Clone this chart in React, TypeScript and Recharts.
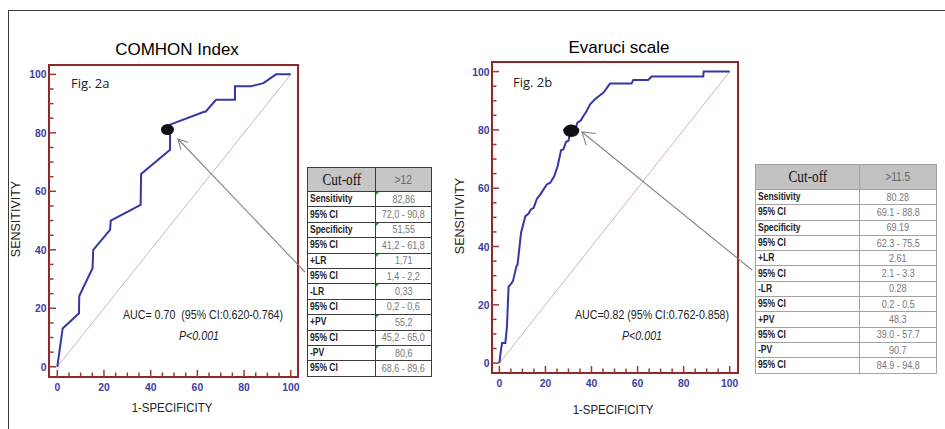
import React from 'react';
import { ComposedChart, Line, Scatter, XAxis, YAxis, ReferenceArea } from 'recharts';

// ROC curve points (1-specificity %, sensitivity %)
const comhonFpr = [0, 2.3, 9.3, 9.4, 15.1, 15.4, 22.6, 22.9, 35.7, 35.9, 48.3, 48.3, 62.6, 63.6, 68, 76.1, 76.1, 82.9, 88.3, 93.7, 100];
const comhonTpr = [0, 13.1, 18.3, 24.2, 33.7, 40, 46.8, 50, 55.4, 65.9, 74.2, 82.8, 87.1, 87.3, 91.3, 91.3, 95.9, 95.9, 97, 100, 100];

const evaruciFpr = [0, 0.7, 1.2, 2.6, 3.3, 4.0, 4.5, 5.9, 7.4, 7.9, 9.4, 11.3, 12.7, 13.7, 14.9, 16.3, 17.7, 20.6, 22.1, 23.8, 25.3, 26.8, 27.8, 28.9, 30, 30.7, 32.9, 33.9, 35.4, 36.5, 37.7, 39.4, 41.5, 43.7, 45.2, 47.3, 48.1, 57.4, 58.1, 64.6, 66.1, 88.5, 88.7, 100];
const evaruciTpr = [0, 4.6, 6.9, 6.9, 12.6, 26.3, 26.6, 28.1, 33.2, 33.8, 44.7, 50.4, 51.3, 52.7, 53.3, 56.4, 57.8, 61.3, 61.9, 64.1, 67.6, 73.1, 73.3, 75.9, 76.3, 79.1, 80.2, 82.5, 83.3, 84.8, 86.2, 88.8, 90.5, 91.9, 92.8, 95.1, 95.9, 95.9, 97.1, 97.1, 98.3, 98.3, 100, 100];

// optimal cut-off points
const comhonCut = [{ x: 47.2, y: 81.1 }];
const evaruciCut = [{ x: 31.2, y: 79.7 }];

const axisTicks = [0, 5, 10, 15, 20, 25, 30, 35, 40, 45, 50, 55, 60, 65, 70, 75, 80, 85, 90, 95, 100];

const rowLabels = ['Sensitivity', '95% CI', 'Specificity', '95% CI', '+LR', '95% CI', '-LR', '95% CI', '+PV', '95% CI', '-PV', '95% CI'];
const comhonValues = ['82,86', '72,0 - 90,8', '51,55', '41,2 - 61,8', '1,71', '1,4 - 2,2', '0,33', '0,2 - 0,6', '55,2', '45,2 - 65,0', '80,6', '68,6 - 89,6'];
const evaruciValues = ['80.28', '69.1 - 88.8', '69.19', '62.3 - 75.5', '2.61', '2.1 - 3.3', '0.28', '0.2 - 0.5', '48.3', '39.0 - 57.7', '90.7', '84.9 - 94.8'];

const toPoints = (xs: number[], ys: number[]) => xs.map((x, i) => ({ x, y: ys[i] }));
const diagonal = [{ x: 0, y: 0 }, { x: 100, y: 100 }];

const BORDER = '#8c2a2a';
const TICK = '#a33434';
const LABEL = '#3d3da3';
const CURVE = '#3636a8';
const SANS = "'Liberation Sans', Arial, sans-serif";

const XTick = (props: any) => {
  const { x, y, payload } = props;
  const v = payload.value;
  const major = v % 20 === 0;
  return (
    <g>
      <line x1={x} x2={x} y1={y} y2={y - (major ? 7 : 4.5)} stroke={TICK} strokeWidth={1.5} />
      {major && (
        <text transform={`translate(${x},${y + 14}) scale(0.9,1)`} textAnchor="middle" fill={LABEL} fontSize={11.5} fontWeight="bold" fontFamily={SANS}>
          {v}
        </text>
      )}
    </g>
  );
};

const YTick = (props: any) => {
  const { x, y, payload } = props;
  const v = payload.value;
  const major = v % 20 === 0;
  return (
    <g>
      <line x1={x} x2={x + (major ? 7 : 4.5)} y1={y} y2={y} stroke={TICK} strokeWidth={1.5} />
      {major && (
        <text transform={`translate(${x - 2.5},${y + 4}) scale(0.9,1)`} textAnchor="end" fill={LABEL} fontSize={11.5} fontWeight="bold" fontFamily={SANS}>
          {v}
        </text>
      )}
    </g>
  );
};

type PanelProps = {
  curve: { x: number; y: number }[];
  cut: { x: number; y: number }[];
  margin: { top: number; right: number; bottom: number; left: number };
  xDomain: [number, number];
  yDomain: [number, number];
  rx: number;
  ry: number;
};

const RocPanel = ({ curve, cut, margin, xDomain, yDomain, rx, ry }: PanelProps) => (
  <div style={{ position: 'absolute', left: 0, top: 0 }}>
    <ComposedChart width={945} height={429} margin={margin}>
      <XAxis
        type="number"
        dataKey="x"
        domain={xDomain}
        allowDataOverflow
        ticks={axisTicks}
        interval={0}
        tick={(p: any) => <XTick {...p} />}
        tickLine={false}
        axisLine={false}
        tickSize={0}
        tickMargin={0}
        height={1}
      />
      <YAxis
        type="number"
        dataKey="y"
        domain={yDomain}
        allowDataOverflow
        ticks={axisTicks}
        interval={0}
        tick={(p: any) => <YTick {...p} />}
        tickLine={false}
        axisLine={false}
        tickSize={0}
        tickMargin={0}
        width={1}
      />
      <ReferenceArea
        x1={xDomain[0]}
        x2={xDomain[1]}
        y1={yDomain[0]}
        y2={yDomain[1]}
        fill="none"
        fillOpacity={0}
        stroke={BORDER}
        strokeWidth={2}
        ifOverflow="visible"
      />
      <Line data={diagonal} dataKey="y" type="linear" stroke="#d6b4aa" strokeWidth={1} dot={false} isAnimationActive={false} />
      <Scatter
        data={cut}
        dataKey="y"
        isAnimationActive={false}
        shape={(p: any) => <ellipse cx={p.cx} cy={p.cy} rx={rx} ry={ry} fill="#111" />}
      />
      <Line data={curve} dataKey="y" type="linear" stroke={CURVE} strokeWidth={2} dot={false} isAnimationActive={false} />
    </ComposedChart>
  </div>
);

const Arrow = ({ tail, tip, len, spread }: { tail: [number, number]; tip: [number, number]; len: number; spread: number }) => {
  const ang = Math.atan2(tail[1] - tip[1], tail[0] - tip[0]);
  const a1 = ang + (spread * Math.PI) / 180;
  const a2 = ang - (spread * Math.PI) / 180;
  return (
    <g stroke="#858585" strokeWidth={1.1} fill="none">
      <line x1={tail[0]} y1={tail[1]} x2={tip[0]} y2={tip[1]} />
      <polyline
        points={`${tip[0] + len * Math.cos(a1)},${tip[1] + len * Math.sin(a1)} ${tip[0]},${tip[1]} ${tip[0] + len * Math.cos(a2)},${tip[1] + len * Math.sin(a2)}`}
      />
    </g>
  );
};

// condensed text: horizontally squeezed, anchored at (x, y)
const NText = ({ x, y, sx = 0.82, size = 13, anchor = 'middle', italic = false, children }: any) => (
  <text
    transform={`translate(${x},${y}) scale(${sx},1)`}
    textAnchor={anchor}
    fontSize={size}
    fontStyle={italic ? 'italic' : 'normal'}
    fontFamily={SANS}
    fill="#222"
    style={{ whiteSpace: 'pre' }}
  >
    {children}
  </text>
);

const CutTable = ({
  left, top, width, split, headerH, rowH, cutoff, values, border, borderW, headerBg, marks,
}: {
  left: number; top: number; width: number; split: number; headerH: number; rowH: number; cutoff: string;
  values: string[]; border: string; borderW: number; headerBg: string; marks: boolean;
}) => (
  <table
    style={{
      position: 'absolute', left, top, width, borderCollapse: 'collapse', tableLayout: 'fixed',
      fontFamily: SANS, border: `${borderW}px solid ${border}`,
    }}
  >
    <colgroup>
      <col style={{ width: split }} />
      <col style={{ width: width - split }} />
    </colgroup>
    <tbody>
      <tr style={{ height: headerH, background: headerBg }}>
        <td style={{ border: `${borderW}px solid ${border}`, textAlign: 'center', padding: 0, fontFamily: "'Liberation Serif', 'Times New Roman', serif", fontSize: 17, color: '#111' }}>
          <span style={{ display: 'inline-block', transform: 'scaleX(0.78)' }}>Cut-off</span>
        </td>
        <td style={{ border: `${borderW}px solid ${border}`, textAlign: 'center', padding: 0, fontSize: 12, color: '#666' }}>
          <span style={{ display: 'inline-block', transform: 'scaleX(0.85)' }}>{cutoff}</span>
        </td>
      </tr>
      {rowLabels.map((lab, i) => (
        <tr key={i} style={{ height: rowH }}>
          <td style={{ border: `${borderW}px solid ${border}`, padding: '0 0 0 2px', fontSize: 10, fontWeight: 'bold', color: '#222', whiteSpace: 'nowrap', lineHeight: 1 }}>
            <span style={{ display: 'inline-block', transform: 'scaleX(0.85)', transformOrigin: 'left center' }}>{lab}</span>
          </td>
          <td style={{ border: `${borderW}px solid ${border}`, padding: 0, fontSize: 11, color: '#777', textAlign: 'center', whiteSpace: 'nowrap', lineHeight: 1, position: 'relative' }}>
            {marks && i % 2 === 0 && (
              <div style={{ position: 'absolute', left: 0, top: 0, width: 0, height: 0, borderTop: '3px solid #1a9a1a', borderRight: '3px solid transparent' }} />
            )}
            <span style={{ display: 'inline-block', transform: 'scaleX(0.82)' }}>{values[i]}</span>
          </td>
        </tr>
      ))}
    </tbody>
  </table>
);

export default function App() {
  return (
    <div style={{ position: 'fixed', left: 0, top: 0, width: 945, height: 429, background: '#fff', overflow: 'hidden' }}>
      <div style={{ position: 'absolute', left: 8, top: 10, width: 945, height: 430, borderTop: '1.5px solid #3a3a3a', borderLeft: '1.5px solid #3a3a3a' }} />

      <RocPanel
        curve={toPoints(comhonFpr, comhonTpr)}
        cut={comhonCut}
        margin={{ top: 65, right: 647, bottom: 51, left: 48 }}
        xDomain={[-3.55, 103.1]}
        yDomain={[-3.5, 103.2]}
        rx={6.5}
        ry={5.5}
      />
      <RocPanel
        curve={toPoints(evaruciFpr, evaruciTpr)}
        cut={evaruciCut}
        margin={{ top: 62, right: 207, bottom: 55, left: 491 }}
        xDomain={[-3.2, 103.6]}
        yDomain={[-3.4, 103.3]}
        rx={8}
        ry={6.2}
      />

      <CutTable left={307} top={167} width={124} split={68} headerH={24} rowH={15.4} cutoff=">12"
        values={comhonValues} border="#3c3c3c" borderW={1.5} headerBg="#c6c6c6" marks />
      <CutTable left={755} top={164} width={181} split={104} headerH={25} rowH={15.3} cutoff=">11.5"
        values={evaruciValues} border="#a2a2a2" borderW={1.5} headerBg="#c2c2c2" marks={false} />

      <svg width={945} height={429} style={{ position: 'absolute', left: 0, top: 0, pointerEvents: 'none' }}>
        <text x={177} y={55} textAnchor="middle" fontSize={17} fontFamily={SANS} fill="#000">COMHON Index</text>
        <text x={619} y={52.5} textAnchor="middle" fontSize={17} fontFamily={SANS} fill="#000">Evaruci scale</text>

        <text x={71} y={87.5} fontSize={13} fontFamily="'Open Sans', sans-serif" fill="#222">Fig. 2a</text>
        <text x={513} y={87} fontSize={13} fontFamily="'Open Sans', sans-serif" fill="#222">Fig. 2b</text>

        <NText x={203} y={319}>{'AUC= 0.70  (95% CI:0.620-0.764)'}</NText>
        <NText x={199} y={339.5} italic>P&lt;0.001</NText>
        <NText x={652} y={319}>AUC=0.82 (95% CI:0.762-0.858)</NText>
        <NText x={642} y={339.5} italic>P&lt;0.001</NText>

        <text transform="translate(20,219) rotate(-90)" textAnchor="middle" fontSize={12.5} fontFamily={SANS} fill="#222">SENSITIVITY</text>
        <text transform="translate(464,216) rotate(-90)" textAnchor="middle" fontSize={12.5} fontFamily={SANS} fill="#222">SENSITIVITY</text>
        <NText x={172} y={411.5} sx={0.88}>1-SPECIFICITY</NText>
        <NText x={613} y={414} sx={0.88}>1-SPECIFICITY</NText>

        <Arrow tail={[305, 272]} tip={[178, 139]} len={11} spread={28} />
        <Arrow tail={[752, 270]} tip={[582, 132]} len={14} spread={33} />
      </svg>
    </div>
  );
}
